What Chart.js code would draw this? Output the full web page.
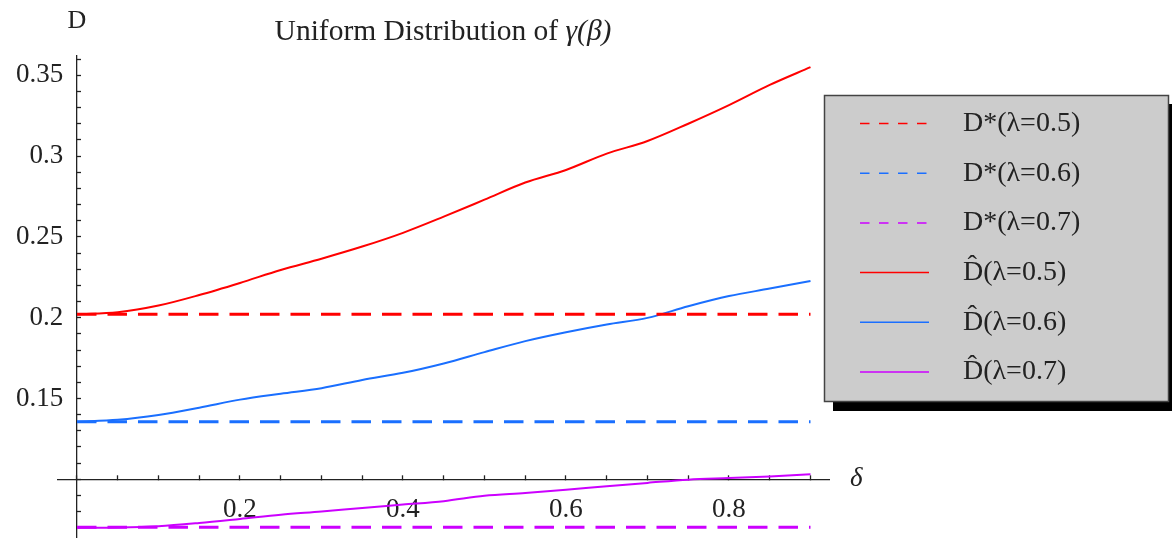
<!DOCTYPE html>
<html><head><meta charset="utf-8">
<script src="https://cdn.jsdelivr.net/npm/chart.js@4/dist/chart.umd.min.js"></script>
<style>html,body{margin:0;padding:0;background:#fff;}#wrap{width:1172px;height:538px;position:relative;}</style>
</head><body><div id="wrap"><canvas id="c" width="1172" height="538"></canvas></div>
<script>
// ---- data ----
const deltaValues = [0, 0.05, 0.10, 0.15, 0.20, 0.25, 0.30, 0.35, 0.40, 0.45, 0.50, 0.55, 0.60, 0.65, 0.70, 0.75, 0.80, 0.85, 0.90];
const dHat05 = [0.2022, 0.2034, 0.2075, 0.2140, 0.2215, 0.2295, 0.2365, 0.2440, 0.2525, 0.2625, 0.2730, 0.2836, 0.2914, 0.3015, 0.3093, 0.3200, 0.3315, 0.3440, 0.3550];
const dHat06 = [0.1356, 0.1368, 0.1398, 0.1443, 0.1493, 0.1530, 0.1564, 0.1615, 0.1659, 0.1717, 0.1787, 0.1855, 0.1910, 0.1958, 0.1999, 0.2071, 0.2134, 0.2180, 0.2227];
const dHat07 = [0.0700, 0.0702, 0.0710, 0.0730, 0.0755, 0.0781, 0.0801, 0.0823, 0.0844, 0.0865, 0.0898, 0.0915, 0.0935, 0.0957, 0.0978, 0.0998, 0.1008, 0.1018, 0.1031];
const dStarValues = [0.2022, 0.1356, 0.0703];   // D*(λ=0.5), D*(λ=0.6), D*(λ=0.7)
const dStarDelta = [0, 0.9];
const seriesLabels = ['D*(λ=0.5)', 'D*(λ=0.6)', 'D*(λ=0.7)', 'D\u0302(λ=0.5)', 'D\u0302(λ=0.6)', 'D\u0302(λ=0.7)'];
const xTickLabels = ['0.2', '0.4', '0.6', '0.8'];
const yTickLabels = ['0.15', '0.2', '0.25', '0.3', '0.35'];
const titleText = 'Uniform Distribution of ';
const titleMath = 'γ(β)';
const yAxisTitle = 'D';
const xAxisTitle = 'δ';

// ---- styles ----
const colors = ['#ff0000', '#1a6fff', '#cc00ff'];
const SERIF = '"Liberation Serif", "DejaVu Serif", serif';

const pairs = (xs, ys) => xs.map((x, i) => ({x: x, y: ys[i]}));
const datasets = [];
dStarValues.forEach((v, i) => {
  datasets.push({label: seriesLabels[i], data: pairs(dStarDelta, [v, v]), borderColor: colors[i],
    borderWidth: 3, borderDash: [19.5, 11], pointRadius: 0, fill: false});
});
[dHat05, dHat06, dHat07].forEach((arr, i) => {
  datasets.push({label: seriesLabels[3 + i], data: pairs(deltaValues, arr), borderColor: colors[i],
    borderWidth: 2, pointRadius: 0, fill: false, cubicInterpolationMode: 'monotone'});
});

const fmt = v => String(+(+v).toFixed(2));
const zeroV = s => { s.width = 0; s.paddingTop = 0; s.paddingBottom = 0; s.paddingLeft = 0; s.paddingRight = 0; };
const zeroH = s => { s.height = 0; s.paddingTop = 0; s.paddingBottom = 0; s.paddingLeft = 0; s.paddingRight = 0; };

const decorPlugin = {
  id: 'decor',
  afterDraw(chart) {
    const ctx = chart.ctx;
    ctx.save();
    // title
    ctx.fillStyle = '#222';
    ctx.textBaseline = 'middle';
    ctx.textAlign = 'left';
    ctx.font = '29.5px ' + SERIF;
    const w1 = ctx.measureText(titleText).width;
    ctx.font = 'italic 29.5px ' + SERIF;
    const w2 = ctx.measureText(titleMath).width;
    const tx = 443 - (w1 + w2) / 2;
    ctx.font = '29.5px ' + SERIF;
    ctx.fillText(titleText, tx, 32);
    ctx.font = 'italic 29.5px ' + SERIF;
    ctx.fillText(titleMath, tx + w1, 32);
    // axis titles
    const xs = chart.scales.x, ys = chart.scales.y;
    ctx.font = '26px ' + SERIF;
    ctx.textAlign = 'center';
    ctx.fillText(yAxisTitle, xs.getPixelForValue(0), 21);
    ctx.font = 'italic 27px ' + SERIF;
    ctx.textAlign = 'left';
    ctx.fillText(xAxisTitle, 850, ys.getPixelForValue(0.1));
    // legend box
    const L = 824, T = 95, R = 1169, B = 402;
    ctx.fillStyle = '#000';
    ctx.fillRect(L + 9, T + 9, R - L, B - T);
    ctx.fillStyle = '#cccccc';
    ctx.fillRect(L, T, R - L, B - T);
    ctx.strokeStyle = '#444';
    ctx.lineWidth = 1.5;
    ctx.strokeRect(L + 0.5, T + 0.5, R - L - 1, B - T - 1);
    chart.data.datasets.forEach((ds, i) => {
      const cy = 123.5 + i * 49.7;
      ctx.save();
      ctx.strokeStyle = ds.borderColor;
      ctx.lineWidth = 1.5;
      ctx.setLineDash(ds.borderDash ? [9.5, 9.5] : []);
      ctx.beginPath();
      ctx.moveTo(860, cy);
      ctx.lineTo(929, cy);
      ctx.stroke();
      ctx.restore();
      ctx.fillStyle = '#222';
      ctx.font = '28px ' + SERIF;
      ctx.textAlign = 'left';
      ctx.textBaseline = 'middle';
      ctx.fillText(ds.label, 963, cy);
    });
    ctx.restore();
  }
};

const labelFont = {family: SERIF, size: 27};

new Chart(document.getElementById('c'), {
  type: 'line',
  data: {datasets: datasets},
  options: {
    responsive: false,
    animation: false,
    layout: {padding: {left: 58, right: 343, top: 56, bottom: 0}},
    plugins: {legend: {display: false}, title: {display: false}, tooltip: {enabled: false}},
    scales: {
      x: {
        type: 'linear', min: -0.0233, max: 0.9227, position: {y: 0.1},
        afterFit: zeroH,
        border: {display: true, color: '#222', width: 1.3},
        grid: {display: true, drawOnChartArea: false, drawTicks: true, tickLength: -5, tickColor: '#222', tickWidth: 1.3},
        ticks: {stepSize: 0.05, autoSkip: false, maxRotation: 0, minRotation: 0, includeBounds: false, padding: 19,
          color: '#222', font: labelFont,
          callback: v => xTickLabels.includes(fmt(v)) ? fmt(v) : ''}
      },
      y: {
        type: 'linear', min: 0.0637, max: 0.3619, position: {x: 0},
        afterFit: zeroV,
        border: {display: true, color: '#222', width: 1.3},
        grid: {display: true, drawOnChartArea: false, drawTicks: true, tickLength: -5, tickColor: '#222', tickWidth: 1.3},
        ticks: {stepSize: 0.01, autoSkip: false, includeBounds: false, callback: () => ''}
      },
      yLabels: {
        type: 'linear', min: 0.0637, max: 0.3619, position: 'left',
        afterFit: zeroV,
        border: {display: false},
        grid: {display: false, drawTicks: false},
        ticks: {stepSize: 0.05, autoSkip: false, includeBounds: false, mirror: true, crossAlign: 'far', padding: -42,
          color: '#222', font: labelFont,
          callback: v => yTickLabels.includes(fmt(v)) ? fmt(v) : ''}
      }
    }
  },
  plugins: [decorPlugin]
});
</script></body></html>
